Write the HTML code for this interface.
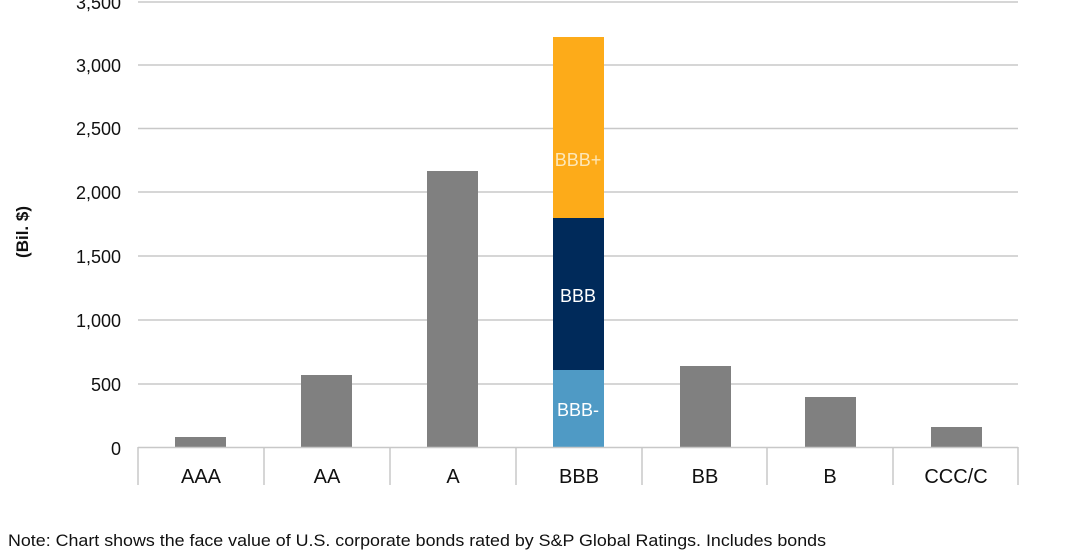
<!DOCTYPE html>
<html><head><style>
html,body{margin:0;padding:0;background:#fff;}
</style></head><body>
<svg width="1069" height="550" xmlns="http://www.w3.org/2000/svg" style="display:block;font-family:'Liberation Sans',Arial,sans-serif">
<g stroke="#c8c8c8" stroke-width="1.5">
<line x1="138" x2="1018" y1="2" y2="2"/>
<line x1="138" x2="1018" y1="65" y2="65"/>
<line x1="138" x2="1018" y1="128.5" y2="128.5"/>
<line x1="138" x2="1018" y1="192" y2="192"/>
<line x1="138" x2="1018" y1="256" y2="256"/>
<line x1="138" x2="1018" y1="320" y2="320"/>
<line x1="138" x2="1018" y1="384" y2="384"/>
</g>
<g fill="#808080">
<rect x="175" y="437" width="51" height="10"/>
<rect x="301" y="375" width="51" height="72"/>
<rect x="427" y="171" width="51" height="276"/>
<rect x="680" y="366" width="51" height="81"/>
<rect x="805" y="397" width="51" height="50"/>
<rect x="931" y="427" width="51" height="20"/>
</g>
<rect x="553" y="37" width="51" height="181" fill="#fdab19"/>
<rect x="553" y="218" width="51" height="152" fill="#002a5a"/>
<rect x="553" y="370" width="51" height="77" fill="#4f9ac5"/>
<g stroke="#c8c8c8" stroke-width="1.5">
<line x1="138" x2="1018" y1="447.5" y2="447.5"/>
<line x1="138" x2="138" y1="447" y2="485"/>
<line x1="264" x2="264" y1="447" y2="485"/>
<line x1="390" x2="390" y1="447" y2="485"/>
<line x1="516" x2="516" y1="447" y2="485"/>
<line x1="642" x2="642" y1="447" y2="485"/>
<line x1="767" x2="767" y1="447" y2="485"/>
<line x1="893" x2="893" y1="447" y2="485"/>
<line x1="1018" x2="1018" y1="447" y2="485"/>
</g>
<g font-size="18" fill="#111" text-anchor="end">
<text x="121" y="9">3,500</text>
<text x="121" y="72">3,000</text>
<text x="121" y="135">2,500</text>
<text x="121" y="199">2,000</text>
<text x="121" y="263">1,500</text>
<text x="121" y="327">1,000</text>
<text x="121" y="391">500</text>
<text x="121" y="455">0</text>
</g>
<g font-size="20" fill="#111" text-anchor="middle">
<text x="201" y="483">AAA</text>
<text x="327" y="483">AA</text>
<text x="453" y="483">A</text>
<text x="579" y="483">BBB</text>
<text x="705" y="483">BB</text>
<text x="830" y="483">B</text>
<text x="956" y="483">CCC/C</text>
</g>
<g font-size="18" fill="#fff" text-anchor="middle">
<text x="578" y="166" fill="#fde7b8">BBB+</text>
<text x="578" y="302">BBB</text>
<text x="578" y="416">BBB-</text>
</g>
<text transform="translate(28,232) rotate(-90)" font-size="17" font-weight="bold" text-anchor="middle" fill="#111">(Bil. $)</text>
<text x="8" y="546" font-size="17" fill="#111" textLength="818" lengthAdjust="spacingAndGlyphs">Note: Chart shows the face value of U.S. corporate bonds rated by S&amp;P Global Ratings. Includes bonds</text>
</svg>
</body></html>
